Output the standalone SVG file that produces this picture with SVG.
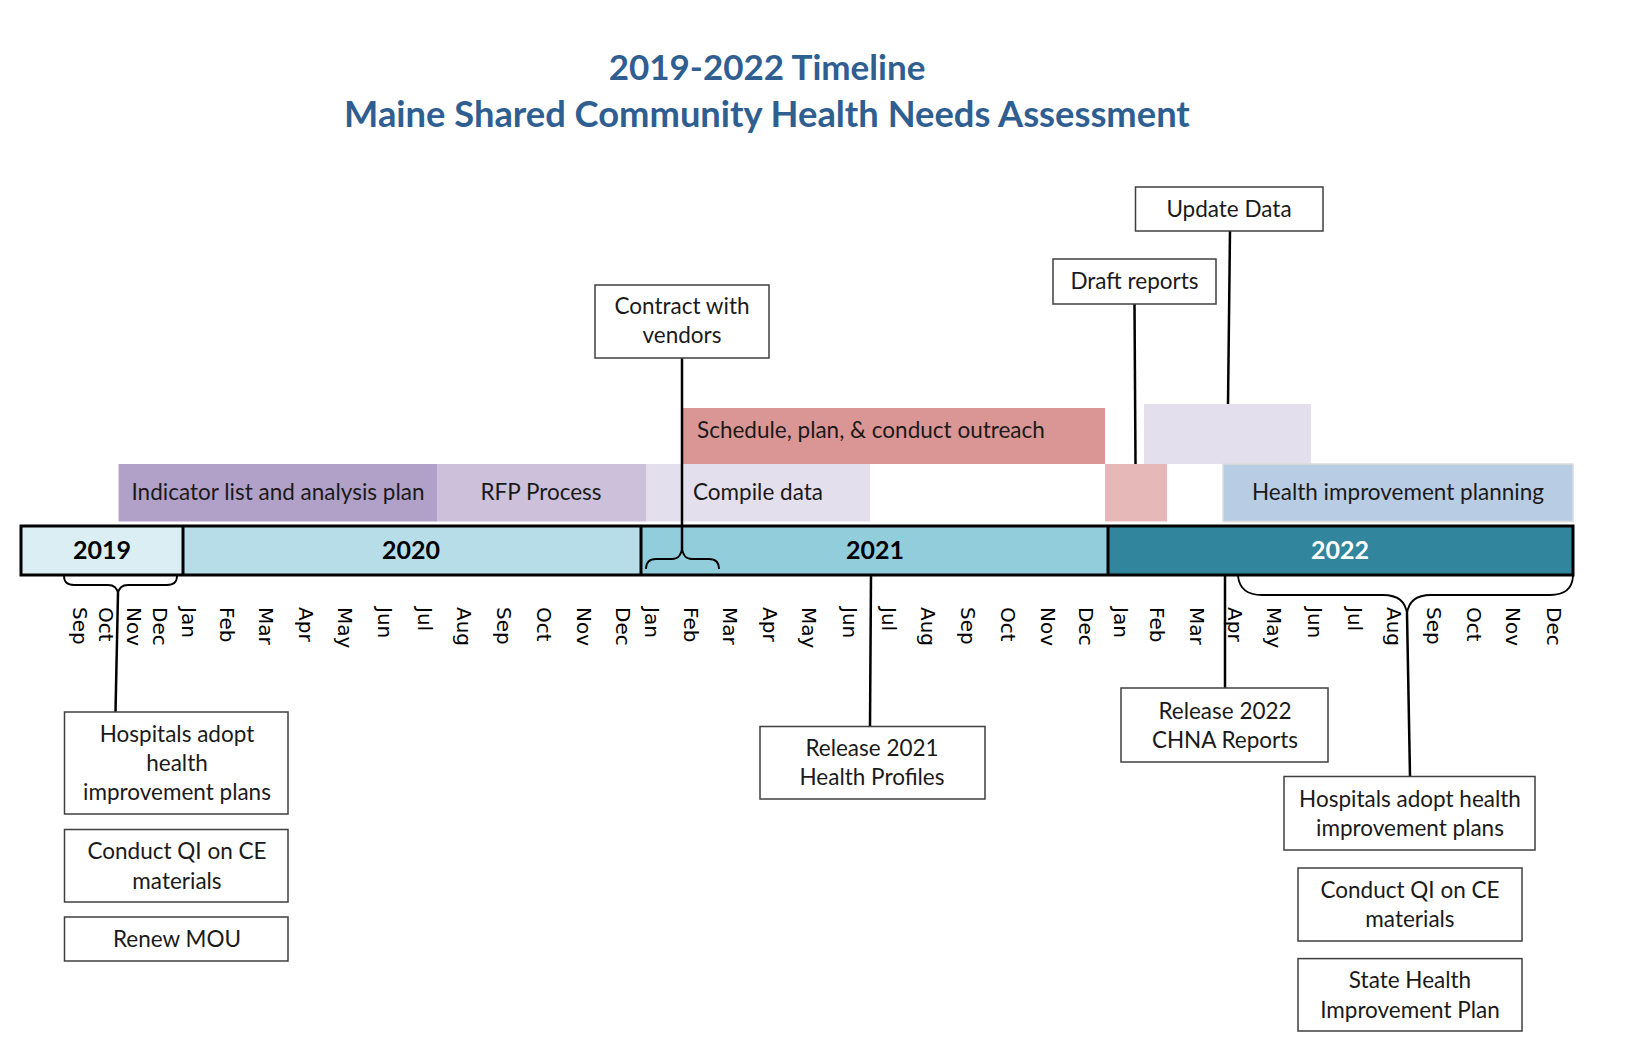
<svg xmlns="http://www.w3.org/2000/svg" width="1632" height="1056" viewBox="0 0 1632 1056">
<style>
.title{font-family:Lato,"Open Sans",sans-serif;font-weight:bold;fill:#2F5E91;text-anchor:middle}
.box{fill:#ffffff;stroke:#3f3f3f;stroke-width:1.5}
.bt{font-family:Lato,"Open Sans",sans-serif;font-size:22.5px;fill:#1a1a1a;text-anchor:middle}
.bar{font-family:Lato,"Open Sans",sans-serif;font-size:22.5px;fill:#1a1a1a}
.yr{font-family:Lato,"Open Sans",sans-serif;font-weight:bold;font-size:25px;text-anchor:middle;fill:#000}
.mo{font-family:"DejaVu Sans",Verdana,sans-serif;font-size:20px;fill:#000}
.ln{fill:none;stroke:#000;stroke-width:2.5}
.br{fill:none;stroke:#000;stroke-width:1.8}
</style>
<rect width="1632" height="1056" fill="#ffffff"/>
<g id="title">
<text class="title" x="767" y="80" font-size="35">2019-2022 Timeline</text>
<text class="title" x="767" y="127" font-size="36.3">Maine Shared Community Health Needs Assessment</text>
</g>
<g id="activity-bars">
<g id="indicator"><rect x="118.6" y="464" width="318.4" height="57.5" fill="#B1A0C7"/><text class="bar" x="278" y="500" text-anchor="middle">Indicator list and analysis plan</text></g>
<g id="rfp"><rect x="437" y="464" width="209" height="57.5" fill="#CCC0DA"/><text class="bar" x="541" y="500" text-anchor="middle">RFP Process</text></g>
<g id="compile"><rect x="646" y="464" width="224" height="57.5" fill="#E4DFEC"/><text class="bar" x="758" y="500" text-anchor="middle">Compile data</text></g>
<g id="outreach"><rect x="683" y="408" width="422" height="56" fill="#DA9694"/><text class="bar" x="697" y="438">Schedule, plan, &amp; conduct outreach</text></g>
<g id="draft-bar"><rect x="1105" y="464" width="62" height="57.5" fill="#E6B8B7"/></g>
<g id="update-bar"><rect x="1144" y="404" width="167" height="60" fill="#E4DFEC"/></g>
<g id="hip"><rect x="1223" y="464" width="350" height="57.5" fill="#B8CCE4" stroke="#dcdcdc" stroke-width="1.5"/><text class="bar" x="1398" y="500" text-anchor="middle">Health improvement planning</text></g>
</g>
<g id="timeline">
<rect x="21" y="526" width="162" height="49" fill="#DAEEF3"/>
<rect x="183" y="526" width="458" height="49" fill="#B7DEE8"/>
<rect x="641" y="526" width="467" height="49" fill="#92CDDC"/>
<rect x="1108" y="526" width="465" height="49" fill="#31859C"/>
<rect x="21" y="526" width="1552" height="49" fill="none" stroke="#000" stroke-width="3"/>
<line x1="183" y1="526" x2="183" y2="575" stroke="#000" stroke-width="3"/>
<line x1="641" y1="526" x2="641" y2="575" stroke="#000" stroke-width="3"/>
<line x1="1108" y1="526" x2="1108" y2="575" stroke="#000" stroke-width="3"/>
<text class="yr" x="102" y="559">2019</text>
<text class="yr" x="411" y="559">2020</text>
<text class="yr" x="875" y="559">2021</text>
<text class="yr" x="1340" y="559" style="fill:#fff">2022</text>
</g>
<g id="months">
<text class="mo" transform="translate(73,607) rotate(90)">Sep</text>
<text class="mo" transform="translate(99,607) rotate(90)">Oct</text>
<text class="mo" transform="translate(127,607) rotate(90)">Nov</text>
<text class="mo" transform="translate(153,607) rotate(90)">Dec</text>
<text class="mo" transform="translate(182,607) rotate(90)">Jan</text>
<text class="mo" transform="translate(220,607) rotate(90)">Feb</text>
<text class="mo" transform="translate(259,607) rotate(90)">Mar</text>
<text class="mo" transform="translate(299,607) rotate(90)">Apr</text>
<text class="mo" transform="translate(338,607) rotate(90)">May</text>
<text class="mo" transform="translate(378,607) rotate(90)">Jun</text>
<text class="mo" transform="translate(418,607) rotate(90)">Jul</text>
<text class="mo" transform="translate(457,607) rotate(90)">Aug</text>
<text class="mo" transform="translate(497,607) rotate(90)">Sep</text>
<text class="mo" transform="translate(537,607) rotate(90)">Oct</text>
<text class="mo" transform="translate(577,607) rotate(90)">Nov</text>
<text class="mo" transform="translate(616,607) rotate(90)">Dec</text>
<text class="mo" transform="translate(645,607) rotate(90)">Jan</text>
<text class="mo" transform="translate(684,607) rotate(90)">Feb</text>
<text class="mo" transform="translate(723,607) rotate(90)">Mar</text>
<text class="mo" transform="translate(763,607) rotate(90)">Apr</text>
<text class="mo" transform="translate(802,607) rotate(90)">May</text>
<text class="mo" transform="translate(843,607) rotate(90)">Jun</text>
<text class="mo" transform="translate(882,607) rotate(90)">Jul</text>
<text class="mo" transform="translate(921,607) rotate(90)">Aug</text>
<text class="mo" transform="translate(961,607) rotate(90)">Sep</text>
<text class="mo" transform="translate(1001,607) rotate(90)">Oct</text>
<text class="mo" transform="translate(1041,607) rotate(90)">Nov</text>
<text class="mo" transform="translate(1079,607) rotate(90)">Dec</text>
<text class="mo" transform="translate(1114,607) rotate(90)">Jan</text>
<text class="mo" transform="translate(1150,607) rotate(90)">Feb</text>
<text class="mo" transform="translate(1190,607) rotate(90)">Mar</text>
<text class="mo" transform="translate(1228,607) rotate(90)">Apr</text>
<text class="mo" transform="translate(1267,607) rotate(90)">May</text>
<text class="mo" transform="translate(1308,607) rotate(90)">Jun</text>
<text class="mo" transform="translate(1348,607) rotate(90)">Jul</text>
<text class="mo" transform="translate(1387,607) rotate(90)">Aug</text>
<text class="mo" transform="translate(1427,607) rotate(90)">Sep</text>
<text class="mo" transform="translate(1467,607) rotate(90)">Oct</text>
<text class="mo" transform="translate(1506,607) rotate(90)">Nov</text>
<text class="mo" transform="translate(1547,607) rotate(90)">Dec</text>
</g>
<g id="connectors">
<path class="br" d="M64,576 Q64,585 74,585 L108,585 Q117,585 118,594 Q119,585 128,585 L167,585 Q177,585 177,576"/>
<line class="ln" x1="118" y1="593" x2="115.5" y2="712"/>
<path class="br" d="M646,569 Q646,559 656,559 L672,559 Q681,559 682,548 Q683,559 692,559 L709,559 Q719,559 719,569"/>
<line class="ln" x1="682" y1="358" x2="682" y2="549"/>
<path class="br" d="M1238,576 Q1240,595 1262,595 L1383,595 Q1405,595 1407,614 Q1409,595 1431,595 L1550,595 Q1572,595 1573,576"/>
<line class="ln" x1="1407" y1="613" x2="1410" y2="776"/>
<line class="ln" x1="1134.5" y1="304" x2="1135.5" y2="464"/>
<line class="ln" x1="1230" y1="231" x2="1228" y2="404"/>
<line class="ln" x1="871" y1="575" x2="870" y2="726"/>
<line class="ln" x1="1225" y1="575" x2="1225" y2="688"/>
</g>
<g id="contract"><rect class="box" x="595" y="285" width="174" height="73"/><text class="bt" x="682" y="314">Contract with</text><text class="bt" x="682" y="343">vendors</text></g>
<g id="draft-reports"><rect class="box" x="1053" y="259" width="163" height="45"/><text class="bt" x="1134.5" y="289">Draft reports</text></g>
<g id="update-data"><rect class="box" x="1135.5" y="187" width="187.5" height="44"/><text class="bt" x="1229" y="217">Update Data</text></g>
<g id="release-2021"><rect class="box" x="760" y="726.5" width="225" height="72.5"/><text class="bt" x="872" y="756">Release 2021</text><text class="bt" x="872" y="785">Health Profiles</text></g>
<g id="release-2022"><rect class="box" x="1121" y="688" width="207" height="74"/><text class="bt" x="1225" y="719">Release 2022</text><text class="bt" x="1225" y="748">CHNA Reports</text></g>
<g id="hosp-2019"><rect class="box" x="64.5" y="712" width="223.5" height="102"/><text class="bt" x="177" y="742">Hospitals adopt</text><text class="bt" x="177" y="771">health</text><text class="bt" x="177" y="800">improvement plans</text></g>
<g id="qi-2019"><rect class="box" x="64.5" y="829.5" width="223.5" height="72.5"/><text class="bt" x="177" y="859">Conduct QI on CE</text><text class="bt" x="177" y="889">materials</text></g>
<g id="mou"><rect class="box" x="64.5" y="917" width="223.5" height="44"/><text class="bt" x="177" y="947">Renew MOU</text></g>
<g id="hosp-2022"><rect class="box" x="1284" y="776.5" width="251" height="73.5"/><text class="bt" x="1410" y="807">Hospitals adopt health</text><text class="bt" x="1410" y="836">improvement plans</text></g>
<g id="qi-2022"><rect class="box" x="1298" y="868" width="224" height="73"/><text class="bt" x="1410" y="898">Conduct QI on CE</text><text class="bt" x="1410" y="927">materials</text></g>
<g id="ship"><rect class="box" x="1298" y="958.6" width="224" height="72.4"/><text class="bt" x="1410" y="988">State Health</text><text class="bt" x="1410" y="1018">Improvement Plan</text></g>
</svg>
